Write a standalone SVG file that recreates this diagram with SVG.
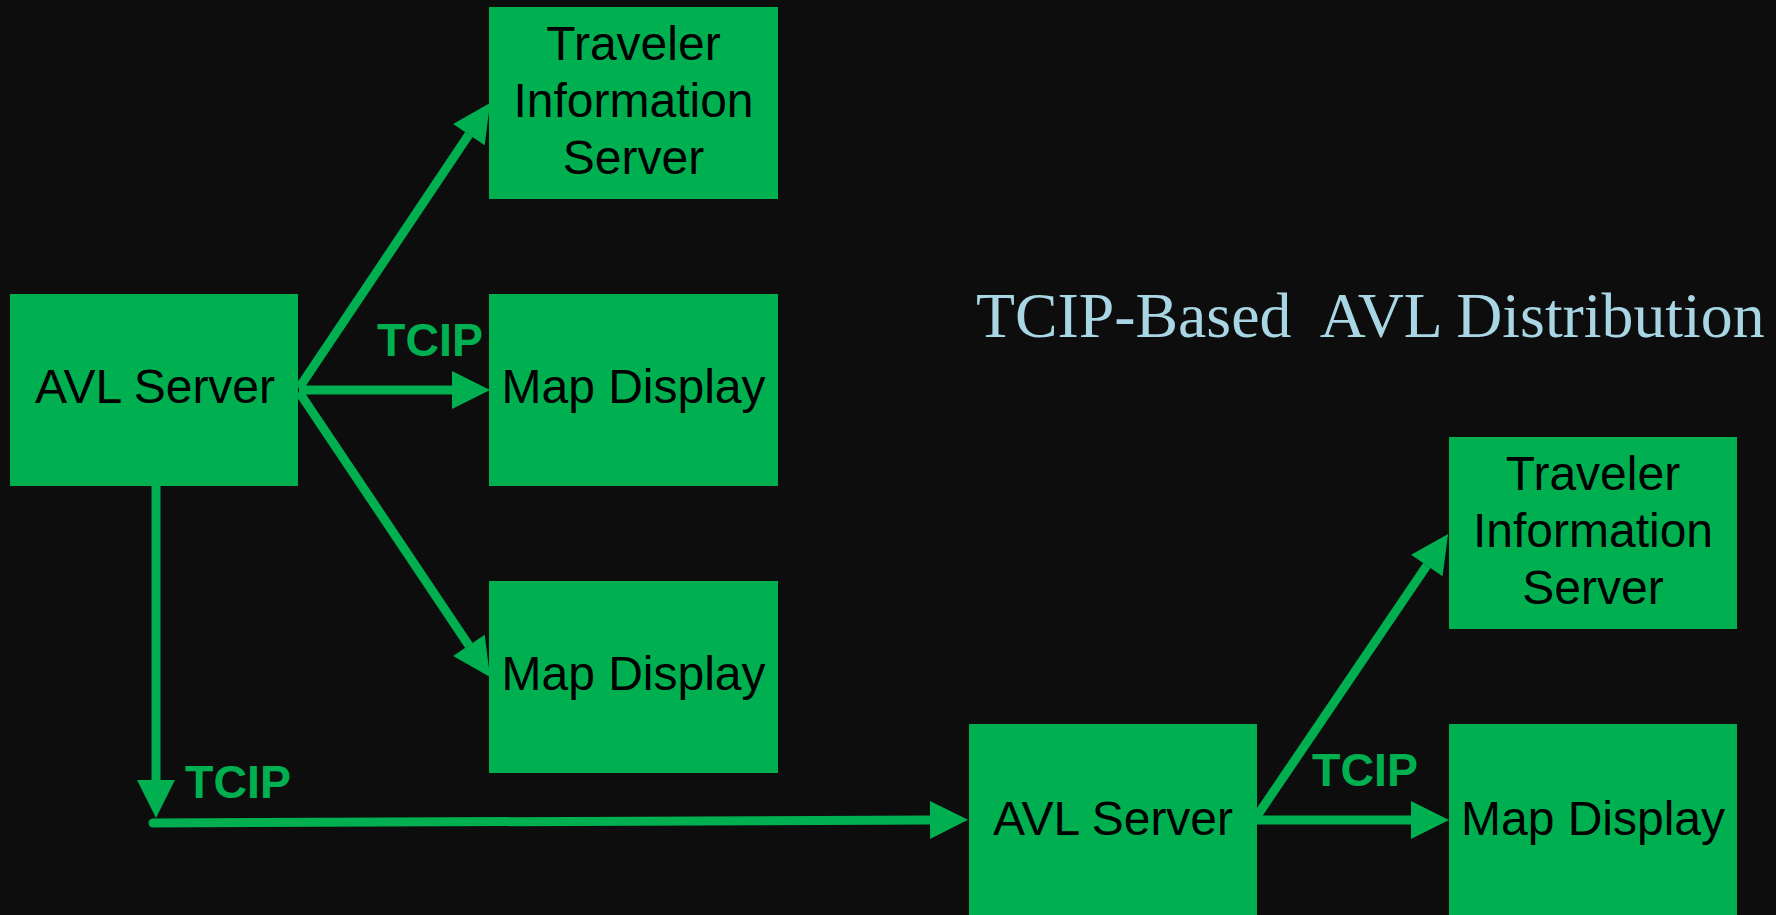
<svg xmlns="http://www.w3.org/2000/svg" width="1776" height="915" viewBox="0 0 1776 915">
<style>
.box{fill:#00b050}
.lbl{font-family:"Liberation Sans",Arial,sans-serif;font-size:48px;fill:#000;text-anchor:middle}
.tcip{font-family:"Liberation Sans",Arial,sans-serif;font-size:46.5px;font-weight:bold;fill:#00b050}
.title{font-family:"Liberation Serif","Times New Roman",serif;font-size:63.8px;fill:#a8d6e4;white-space:pre}
.conn{stroke:#00b050;stroke-width:9;fill:none;marker-end:url(#ah)}
</style>
<defs>
<marker id="ah" markerUnits="userSpaceOnUse" markerWidth="38" markerHeight="38" refX="0" refY="19" orient="auto" overflow="visible">
<path d="M0,0 L38,19 L0,38 Z" fill="#00b050"/>
</marker>
</defs>
<rect width="1776" height="915" fill="#0d0d0d"/>
<text class="title" x="976" y="337" xml:space="preserve">TCIP-Based  AVL Distribution</text>
<g id="connectors">
<line class="conn" x1="299" y1="388" x2="468.9" y2="134.6"/>
<line class="conn" x1="299" y1="390" x2="452" y2="390"/>
<line class="conn" x1="299" y1="392" x2="468.9" y2="645.4"/>
<line class="conn" x1="156" y1="485" x2="156" y2="780"/>
<line class="conn" x1="153" y1="823" x2="930" y2="820" stroke-linecap="round"/>
<line class="conn" x1="1257" y1="816" x2="1426.8" y2="565.5"/>
<line class="conn" x1="1257" y1="820" x2="1411" y2="820"/>
<text class="tcip" x="377" y="356">TCIP</text>
<text class="tcip" x="185" y="798">TCIP</text>
<text class="tcip" x="1312" y="786">TCIP</text>
</g>
<g id="avl1"><rect class="box" x="10" y="294" width="288" height="192"/><text class="lbl" x="155" y="403">AVL Server</text></g>
<g id="tis1"><rect class="box" x="489" y="7" width="289" height="192"/><text class="lbl" x="633.5" y="60">Traveler</text><text class="lbl" x="633.5" y="117">Information</text><text class="lbl" x="633.5" y="174">Server</text></g>
<g id="map1"><rect class="box" x="489" y="294" width="289" height="192"/><text class="lbl" x="633.5" y="403">Map Display</text></g>
<g id="map2"><rect class="box" x="489" y="581" width="289" height="192"/><text class="lbl" x="633.5" y="690">Map Display</text></g>
<g id="avl2"><rect class="box" x="969" y="724" width="288" height="192"/><text class="lbl" x="1113" y="835">AVL Server</text></g>
<g id="tis2"><rect class="box" x="1449" y="437" width="288" height="192"/><text class="lbl" x="1593" y="490">Traveler</text><text class="lbl" x="1593" y="547">Information</text><text class="lbl" x="1593" y="604">Server</text></g>
<g id="map3"><rect class="box" x="1449" y="724" width="288" height="192"/><text class="lbl" x="1593" y="835">Map Display</text></g>
</svg>
